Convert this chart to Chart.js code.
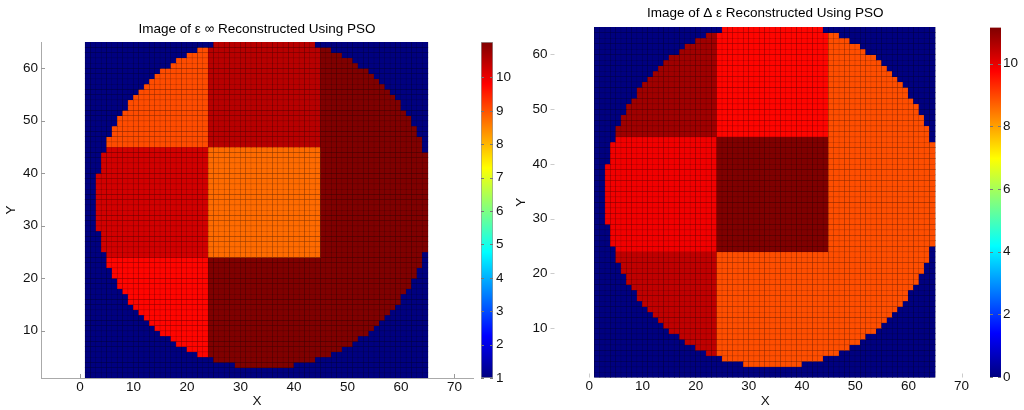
<!DOCTYPE html>
<html>
<head>
<meta charset="utf-8">
<script src="https://cdn.jsdelivr.net/npm/chart.js@4.4.1/dist/chart.umd.min.js"></script>
<style>
  html, body { margin: 0; padding: 0; background: #fff; }
  #wrap { position: relative; width: 1024px; height: 410px; overflow: hidden; }
  canvas { position: absolute; top: 0; }
</style>
</head>
<body>
<div id="wrap">
  <canvas id="epsMap" style="left:0px" width="480" height="410"></canvas>
  <canvas id="epsBar" style="left:481px" width="43" height="410"></canvas>
  <canvas id="deltaMap" style="left:500px" width="490" height="410"></canvas>
  <canvas id="deltaBar" style="left:990px" width="34" height="410"></canvas>
</div>
<script>
// --- data ---
// circle extent per row j = 1..64 (first and last filled cell in that row)
const rowStart = [null, null, 29, 25, 22, 20, 18, 17, 15, 14, 13, 12, 11, 10, 9, 9, 8, 7, 7, 6, 6, 5, 5, 5, 4, 4, 4, 4,
	3, 3, 3, 3, 3, 3, 3, 3, 3, 3, 3,
	4, 4, 4, 4, 5, 5, 5, 6, 6, 7, 7, 8, 9, 9, 10, 11, 12, 13, 14, 15, 17, 18, 20, 22, 25];
const rowEnd = [null, null, 39, 43, 46, 48, 50, 51, 53, 54, 55, 56, 57, 58, 59, 59, 60, 61, 61, 62, 62, 63, 63, 63, 64, 64, 64, 64,
	64, 64, 64, 64, 64, 64, 64, 64, 64, 64, 64,
	64, 64, 64, 64, 63, 63, 63, 62, 62, 61, 61, 60, 59, 59, 58, 57, 56, 55, 54, 53, 51, 50, 48, 46, 43];
// block boundaries (cells below 24 / 24..44 / 45 and up)
const blockEdges = [24, 45];
// values per block: rows bottom, middle, top; columns left, middle, right
const epsInfBlocks = [
	[9.75, 11.06, 11.06],
	[10.25, 8.75, 11.06],
	[9.05, 10.5, 11.06]
];
const deltaEpsBlocks = [
	[10.45, 8.9, 8.9],
	[9.9, 11.15, 8.9],
	[10.8, 9.7, 8.9]
];
const epsInfBackground = 1;
const deltaEpsBackground = 0;
const epsInfRange = [1, 11.06];
const deltaEpsRange = [0, 11.15];
const xTicks = [0, 10, 20, 30, 40, 50, 60, 70];
const yTicks = [10, 20, 30, 40, 50, 60];
const epsInfBarTicks = [1, 2, 3, 4, 5, 6, 7, 8, 9, 10];
const deltaEpsBarTicks = [0, 2, 4, 6, 8, 10];

Chart.defaults.font.family = '"Liberation Sans", Arial, Helvetica, sans-serif';
Chart.defaults.font.size = 13.5;
Chart.defaults.color = '#111';

function clamp01(v) { return Math.max(0, Math.min(1, v)); }
function jetRgb(t) {
	t = clamp01(t);
	return [
		clamp01(1.5 - Math.abs(4 * t - 3)),
		clamp01(1.5 - Math.abs(4 * t - 2)),
		clamp01(1.5 - Math.abs(4 * t - 1))
	];
}
function jet(t, k) {
	const c = jetRgb(t);
	k = k || 1;
	return 'rgb(' + Math.round(c[0] * 255 * k) + ',' + Math.round(c[1] * 255 * k) + ',' + Math.round(c[2] * 255 * k) + ')';
}
function band(k) { return k < blockEdges[0] ? 0 : (k < blockEdges[1] ? 1 : 2); }

function buildCells(blocks, background) {
	const cells = [];
	for (let j = 1; j <= 64; j++) {
		const s = rowStart[j - 1], e = rowEnd[j - 1];
		for (let i = 1; i <= 64; i++) {
			let v = background;
			if (s !== null && i >= s && i <= e) v = blocks[band(j)][band(i)];
			cells.push({ x: i + 0.5, y: [j, j + 1], v: v });
		}
	}
	return cells;
}

// small inward tick marks like the original axes
function drawTicks(chart, opts) {
	const ctx = chart.ctx, a = chart.chartArea;
	const len = opts.length || 4;
	ctx.save();
	ctx.strokeStyle = opts.color || '#999';
	ctx.lineWidth = 1;
	Object.values(chart.scales).forEach(function(scale) {
		if (!scale.options.display) return;
		scale.ticks.forEach(function(t) {
			const p = Math.round(scale.getPixelForValue(t.value)) + 0.5;
			ctx.beginPath();
			if (scale.isHorizontal()) {
				ctx.moveTo(p, a.bottom); ctx.lineTo(p, a.bottom - len);
			} else if (scale.position === 'left') {
				ctx.moveTo(a.left, p); ctx.lineTo(a.left + len, p);
			} else {
				ctx.moveTo(a.right, p); ctx.lineTo(a.right - len, p);
				ctx.moveTo(a.left, p); ctx.lineTo(a.left + len, p);
			}
			ctx.stroke();
		});
	});
	ctx.restore();
}
const inwardTicks = {
	id: 'inwardTicks',
	beforeDatasetsDraw(chart, args, opts) { if (opts.under) drawTicks(chart, opts); },
	afterDraw(chart, args, opts) { if (!opts.under) drawTicks(chart, opts); }
};

function makeMap(id, blocks, background, range, title, lay) {
	const cells = buildCells(blocks, background);
	const norm = function(v) { return (v - range[0]) / (range[1] - range[0]); };
	return new Chart(document.getElementById(id), {
		type: 'bar',
		data: {
			datasets: [{
				data: cells,
				backgroundColor: function(c) { return jet(norm(c.raw.v)); },
				borderColor: function(c) { return jet(norm(c.raw.v), 0.5); },
				borderWidth: 0.5,
				borderSkipped: false,
				inflateAmount: 0.6,
				barPercentage: 1,
				categoryPercentage: 1
			}]
		},
		options: {
			responsive: false,
			animation: false,
			events: [],
			layout: { padding: { left: 0, right: lay.padRight, top: 0, bottom: 0 } },
			plugins: {
				legend: { display: false },
				tooltip: { enabled: false },
				title: {
					display: true,
					fullSize: false,
					text: title,
					color: '#000',
					font: { size: 13.5, weight: 'normal' },
					padding: { top: lay.titleTop, bottom: lay.titleBottom }
				},
				inwardTicks: { under: true, length: 4, color: lay.tickColor }
			},
			scales: {
				x: {
					type: 'linear',
					offset: false,
					min: -7.29,
					max: 73.46,
					afterBuildTicks: function(s) { s.ticks = xTicks.map(function(v) { return { value: v }; }); },
					afterFit: function(s) { s.height = lay.xHeight; },
					grid: { display: false, drawTicks: false },
					border: { display: lay.border, color: '#aaa' },
					ticks: { padding: 1, maxRotation: 0, color: '#111' },
					title: { display: true, text: 'X', color: '#111', font: { size: 13.5 }, padding: { top: 0, bottom: lay.xTitlePad } }
				},
				y: {
					type: 'linear',
					min: 1,
					max: 65,
					afterBuildTicks: function(s) { s.ticks = yTicks.map(function(v) { return { value: v }; }); },
					afterFit: function(s) { s.width = lay.yWidth; },
					grid: { display: false, drawTicks: false },
					border: { display: lay.border, color: '#aaa' },
					ticks: { padding: 3, color: '#111' },
					title: { display: true, text: 'Y', color: '#111', font: { size: 13.5 }, padding: { top: lay.yTitlePad, bottom: 0 } }
				}
			}
		},
		plugins: [inwardTicks]
	});
}

function makeColorbar(id, range, ticks, lay) {
	return new Chart(document.getElementById(id), {
		type: 'bar',
		data: {
			labels: ['c'],
			datasets: [{
				data: [range],
				backgroundColor: function(c) {
					const chart = c.chart, a = chart.chartArea;
					if (!a) return '#000';
					const g = chart.ctx.createLinearGradient(0, a.bottom, 0, a.top);
					for (let k = 0; k <= 32; k++) g.addColorStop(k / 32, jet(k / 32));
					return g;
				},
				borderColor: '#999',
				borderWidth: lay.borderWidth,
				borderSkipped: false,
				barPercentage: 1,
				categoryPercentage: 1
			}]
		},
		options: {
			responsive: false,
			animation: false,
			events: [],
			layout: { padding: { left: 0, right: 0, top: lay.top, bottom: lay.bottom } },
			plugins: {
				legend: { display: false },
				tooltip: { enabled: false },
				inwardTicks: { under: false, length: 3, color: '#777' }
			},
			scales: {
				x: { display: false, offset: true },
				y: {
					position: 'right',
					min: range[0],
					max: range[1],
					afterBuildTicks: function(s) { s.ticks = ticks.map(function(v) { return { value: v }; }); },
					afterFit: function(s) { s.width = lay.axisWidth; },
					grid: { display: false, drawTicks: false },
					border: { display: false },
					ticks: { padding: lay.labelPad, color: '#111' }
				}
			}
		},
		plugins: [inwardTicks]
	});
}

makeMap('epsMap', epsInfBlocks, epsInfBackground, epsInfRange, 'Image of \u03b5 \u221e Reconstructed Using PSO',
	{ padRight: 7, yWidth: 41, xHeight: 32, titleTop: 21, titleBottom: 4.8, yTitlePad: 3.6, xTitlePad: 0.2, border: true, tickColor: '#999' });
makeColorbar('epsBar', epsInfRange, epsInfBarTicks, { top: 42, bottom: 32, axisWidth: 31, labelPad: 3, borderWidth: 1 });
makeMap('deltaMap', deltaEpsBlocks, deltaEpsBackground, deltaEpsRange, 'Image of \u0394 \u03b5 Reconstructed Using PSO',
	{ padRight: 10, yWidth: 50.5, xHeight: 32.5, titleTop: 5, titleBottom: 5.8, yTitlePad: 13.6, xTitlePad: 0.9, border: false, tickColor: '#ccc' });
makeColorbar('deltaBar', deltaEpsRange, deltaEpsBarTicks, { top: 27.5, bottom: 33, axisWidth: 23, labelPad: 2, borderWidth: 0 });
</script>
</body>
</html>
